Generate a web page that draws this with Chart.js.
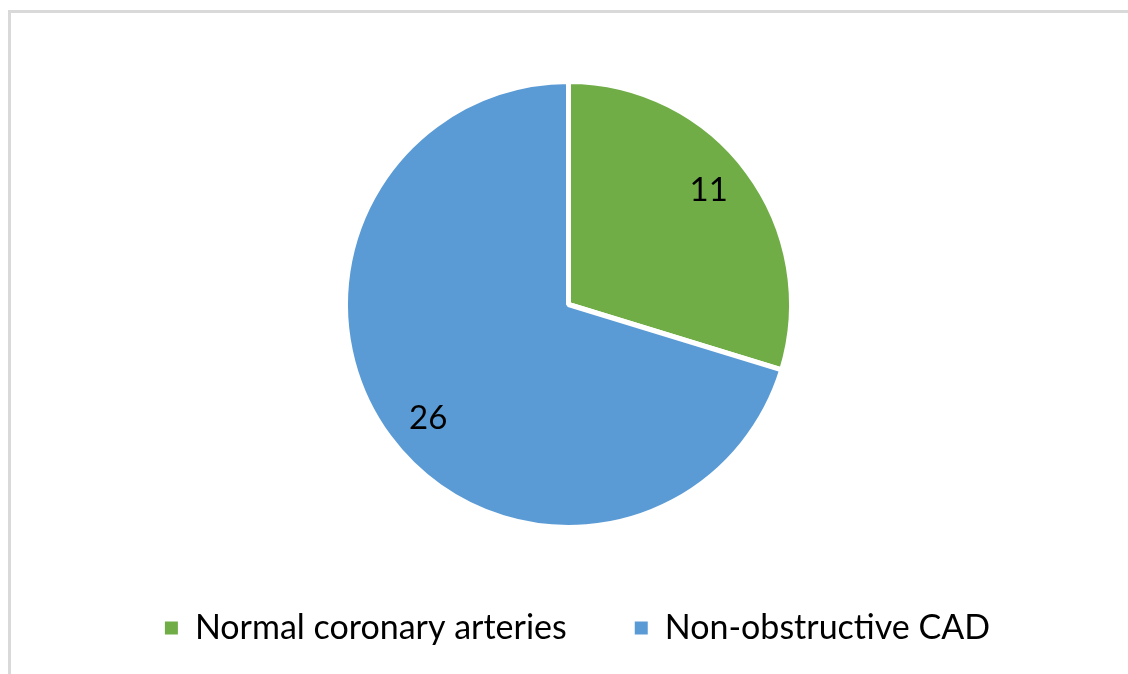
<!DOCTYPE html>
<html>
<head>
<meta charset="utf-8">
<script src="https://cdn.jsdelivr.net/npm/chart.js@4.4.1/dist/chart.umd.min.js"></script>
<style>
  html, body { margin: 0; padding: 0; background: #fff; overflow: hidden; }
  .frame {
    position: absolute; left: 8px; top: 10px; width: 1160px; height: 700px;
    border: 3px solid #d9d9d9; box-sizing: border-box;
  }
  .chart-box { position: absolute; left: 0; top: 0; width: 1128px; height: 674px; }
</style>
</head>
<body>
<div class="frame"></div>
<div class="chart-box"><canvas id="pie"></canvas></div>
<script>
// patient groups and counts
const categories = ['Normal coronary arteries', 'Non-obstructive CAD'];
const counts = [11, 26];
const colors = ['#70ad47', '#5b9bd5'];

const FONT = 'Lato, "Open Sans", sans-serif';

// values written inside each slice, a bit before its middle angle
const sliceLabels = {
    id: 'sliceLabels',
    afterDatasetsDraw(chart) {
        const ctx = chart.ctx;
        const meta = chart.getDatasetMeta(0);
        ctx.save();
        ctx.font = '33px ' + FONT;
        ctx.fillStyle = '#000';
        ctx.textAlign = 'center';
        ctx.textBaseline = 'middle';
        meta.data.forEach((arc, i) => {
            const mid = (arc.startAngle + arc.endAngle) / 2 - 0.045;
            const r = arc.outerRadius * 0.81;
            ctx.fillText(String(chart.data.datasets[0].data[i]), arc.x + Math.cos(mid) * r, arc.y + Math.sin(mid) * r);
        });
        ctx.restore();
    }
};

// legend row sits a little right of the pie centre
const legendShift = {
    id: 'legendShift',
    afterLayout(chart) {
        chart.legend.left += 9;
        chart.legend.right += 9;
    }
};

const pieLegendLabels = Chart.overrides.pie.plugins.legend.labels.generateLabels;

new Chart(document.getElementById('pie'), {
    type: 'pie',
    data: {
        labels: categories,
        datasets: [{
            data: counts,
            backgroundColor: colors,
            borderColor: '#ffffff',
            borderWidth: 5
        }]
    },
    options: {
        responsive: true,
        maintainAspectRatio: false,
        animation: false,
        radius: 223,
        layout: { padding: { top: 66, bottom: 19, left: 9, right: 0 } },
        plugins: {
            legend: {
                position: 'bottom',
                labels: {
                    font: { family: FONT, size: 34 },
                    color: '#000',
                    boxWidth: 13,
                    boxHeight: 13,
                    padding: 68,
                    // plain squares, without the white slice border
                    generateLabels(chart) {
                        return pieLegendLabels(chart).map(item => Object.assign(item, { lineWidth: 0 }));
                    }
                }
            },
            tooltip: { enabled: false }
        }
    },
    plugins: [sliceLabels, legendShift]
});
</script>
</body>
</html>
